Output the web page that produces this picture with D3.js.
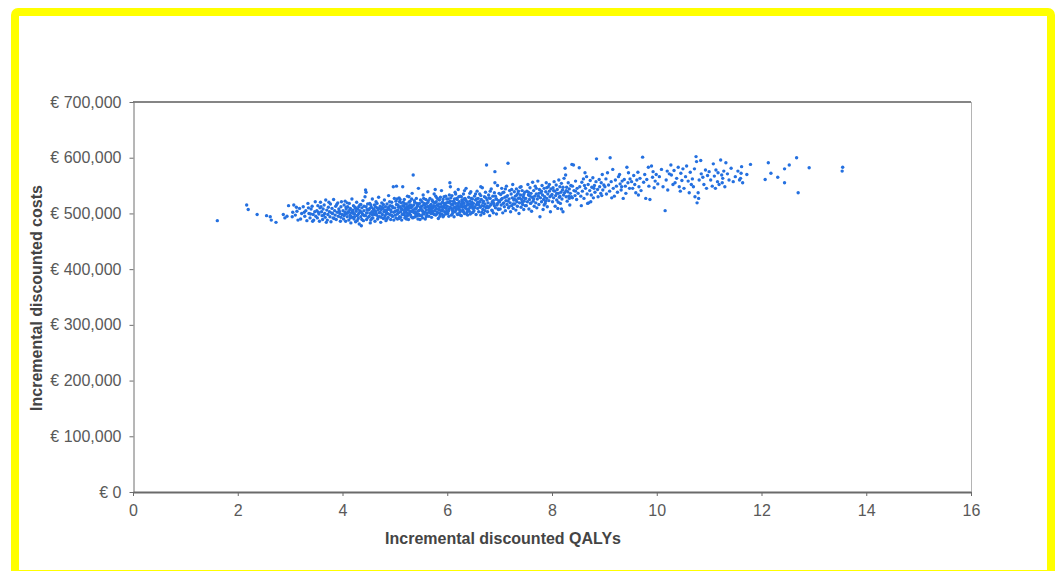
<!DOCTYPE html>
<html>
<head>
<meta charset="utf-8">
<script src="https://cdn.jsdelivr.net/npm/d3@7"></script>
<style>
  html, body { margin: 0; padding: 0; background: #fff; }
  svg { display: block; }
  text { font-family: "Liberation Sans", Arial, sans-serif; }
</style>
</head>
<body>
<div id="chart"></div>
<script>
// Probabilistic sensitivity analysis: incremental QALYs vs incremental costs (in € thousands)
const simulations = [
  [1.61,487],[2.17,515],[2.2,507],[2.37,498],[2.55,496],[2.62,494],[2.64,488],[2.73,484],[2.87,498],[2.94,495],[2.97,514],[2.9,492],
  [3.04,494],[3.07,515],[3.13,504],[3.1,497],[3.18,509],[3.2,490],[3.22,500],[3.25,512],[3.28,495],[3.3,505],[3.32,487],[3.34,518],[3.36,500],[3.38,492],[3.4,508],[3.42,513],[3.44,498],[3.45,488],[3.47,503],[3.48,521],[3.15,488],[3.27,502],[3.35,510],[3.49,495],[3.12,511],[3.39,499],[3.05,502],[3.43,486],
  [3.51,505],[3.52,492],[3.53,514],[3.55,499],[3.56,486],[3.57,510],[3.58,520],[3.6,503],[3.61,496],[3.62,489],[3.63,508],[3.65,515],[3.66,500],[3.67,493],[3.68,524],[3.7,506],[3.71,488],[3.72,498],[3.73,511],[3.75,503],[3.76,494],[3.77,517],[3.78,485],[3.8,509],[3.81,500],[3.82,492],[3.83,525],[3.85,505],[3.86,497],[3.87,513],[3.88,489],[3.9,502],[3.91,519],[3.92,495],[3.93,508],[3.95,500],[3.96,486],[3.97,512],[3.98,521],[3.99,498],[3.54,502],[3.64,497],[3.74,520],[3.84,491],[3.94,504],[3.59,512],[3.69,484],[3.79,501],[3.89,516],[3.97,493],
  [4.01,505],[4.02,490],[4.03,515],[4.04,498],[4.05,522],[4.06,486],[4.07,508],[4.08,500],[4.09,494],[4.1,512],
  [4.11,503],[4.12,488],[4.13,518],[4.14,497],[4.15,509],[4.16,483],[4.17,501],[4.18,526],[4.19,493],[4.2,506],
  [4.21,514],[4.22,490],[4.23,499],[4.24,511],[4.25,485],[4.26,504],[4.27,520],[4.28,496],[4.29,508],[4.3,491],
  [4.31,500],[4.32,481],[4.33,515],[4.34,503],[4.35,494],[4.36,478],[4.37,510],[4.38,499],[4.39,523],[4.4,487],
  [4.41,505],[4.42,496],[4.43,530],[4.44,542],[4.45,512],[4.46,489],[4.47,501],[4.48,517],[4.49,493],[4.03,496],
  [4.07,511],[4.12,502],[4.16,495],[4.21,500],[4.25,509],[4.29,497],[4.33,505],[4.37,489],[4.41,513],[4.46,501],
  [4.05,502],[4.14,507],[4.23,494],[4.31,512],[4.39,498],[4.47,507],[4.09,519],[4.19,504],[4.28,487],[4.36,502],
  [4.44,496],[4.15,492],[4.35,516],[4.45,538],[4.53,483],
  [4.5,506],[4.51,495],[4.52,518],[4.53,500],[4.54,488],[4.55,511],[4.56,503],[4.57,526],[4.58,492],[4.59,508],
  [4.6,499],[4.61,515],[4.62,486],[4.63,504],[4.64,521],[4.65,497],[4.66,510],[4.67,490],[4.68,506],[4.69,529],
  [4.7,501],[4.71,494],[4.72,513],[4.73,484],[4.74,507],[4.75,519],[4.76,498],[4.77,509],[4.78,491],[4.79,503],
  [4.8,524],[4.81,496],[4.82,512],[4.83,487],[4.84,505],[4.85,517],[4.86,500],[4.87,493],[4.88,532],[4.89,508],
  [4.9,498],[4.91,514],[4.92,489],[4.93,503],[4.94,520],[4.95,495],[4.96,510],[4.97,548],[4.98,502],[4.99,527],
  [4.52,509],[4.56,491],[4.6,507],[4.64,500],[4.68,494],[4.72,502],[4.76,511],[4.8,492],[4.84,499],[4.88,511],
  [4.92,506],[4.96,495],[4.54,515],[4.62,498],[4.7,509],[4.78,516],[4.86,507],[4.94,497],[4.58,502],[4.66,518],
  [4.74,493],[4.82,503],[4.9,521],[4.98,488],[4.63,512],[4.81,506],[4.95,513],[4.57,497],[4.85,490],
  [5.0,510],[5.01,497],[5.02,522],[5.03,549],[5.04,505],[5.05,490],[5.06,515],[5.07,501],[5.08,528],[5.09,494],
  [5.1,512],[5.11,503],[5.12,519],[5.13,488],[5.14,507],[5.15,548],[5.16,498],[5.17,513],[5.18,525],[5.19,492],
  [5.2,509],[5.21,502],[5.22,517],[5.23,495],[5.24,531],[5.25,506],[5.26,489],[5.27,514],[5.28,500],[5.29,522],
  [5.3,497],[5.31,510],[5.32,504],[5.33,536],[5.34,492],[5.35,569],[5.36,515],[5.37,501],[5.38,520],[5.39,494],
  [5.4,508],[5.41,527],[5.42,499],[5.43,513],[5.44,490],[5.45,545],[5.46,505],[5.47,518],[5.48,496],[5.49,511],
  [5.01,504],[5.03,516],[5.05,499],[5.07,511],[5.09,521],[5.11,493],[5.13,508],[5.15,514],[5.17,500],[5.19,517],
  [5.21,507],[5.23,512],[5.25,497],[5.27,520],[5.29,504],[5.31,494],[5.33,512],[5.35,506],[5.37,523],[5.39,502],
  [5.41,510],[5.43,496],[5.45,516],[5.47,506],[5.49,524],[5.02,492],[5.06,506],[5.1,525],[5.14,498],[5.18,505],
  [5.22,490],[5.26,509],[5.3,515],[5.34,503],[5.38,508],[5.42,518],[5.46,498],[5.04,526],[5.12,509],[5.2,496],
  [5.28,511],[5.36,493],[5.44,504],[5.08,491],[5.16,520],[5.24,500],[5.32,526],[5.4,498],[5.48,489],[5.27,530],
  [5.5,509],[5.51,496],[5.52,521],[5.53,504],[5.54,533],[5.55,515],[5.56,499],[5.57,510],[5.58,490],[5.59,525],
  [5.6,506],[5.61,518],[5.62,501],[5.63,539],[5.64,512],[5.65,495],[5.66,508],[5.67,527],[5.68,503],[5.69,516],
  [5.7,493],[5.71,511],[5.72,522],[5.73,500],[5.74,514],[5.75,535],[5.76,505],[5.77,519],[5.78,497],[5.79,509],
  [5.8,528],[5.81,502],[5.82,514],[5.83,491],[5.84,507],[5.85,524],[5.86,511],[5.87,498],[5.88,517],[5.89,541],
  [5.9,505],[5.91,520],[5.92,494],[5.93,512],[5.94,530],[5.95,503],[5.96,516],[5.97,499],[5.98,509],[5.99,526],
  [5.51,513],[5.53,492],[5.55,527],[5.57,502],[5.59,511],[5.61,497],[5.63,520],[5.65,507],[5.67,514],[5.69,500],
  [5.71,524],[5.73,510],[5.75,498],[5.77,506],[5.79,521],[5.81,515],[5.83,508],[5.85,501],[5.87,529],[5.89,512],
  [5.91,507],[5.93,496],[5.95,518],[5.97,531],[5.99,504],[5.52,506],[5.56,518],[5.6,494],[5.64,523],[5.68,510],
  [5.72,503],[5.76,513],[5.8,499],[5.84,517],[5.88,505],[5.92,525],[5.96,510],[5.54,500],[5.62,512],[5.7,506],
  [5.78,531],[5.86,495],[5.94,514],[5.58,516],[5.66,502],[5.74,520],[5.82,526],[5.9,499],[5.98,519],[5.77,543],
  [6.0,513],[6.01,500],[6.02,526],[6.03,507],[6.04,519],[6.05,555],[6.06,548],[6.07,510],[6.08,497],[6.09,532],
  [6.1,515],[6.11,504],[6.12,522],[6.13,494],[6.14,511],[6.15,538],[6.16,518],[6.17,506],[6.18,527],[6.19,499],
  [6.2,514],[6.21,543],[6.22,509],[6.23,521],[6.24,502],[6.25,531],[6.26,516],[6.27,496],[6.28,524],[6.29,511],
  [6.3,506],[6.31,535],[6.32,518],[6.33,500],[6.34,527],[6.35,513],[6.36,545],[6.37,508],[6.38,520],[6.39,497],
  [6.4,515],[6.41,529],[6.42,504],[6.43,522],[6.44,511],[6.45,539],[6.46,517],[6.47,501],[6.48,526],[6.49,509],
  [6.01,520],[6.03,495],[6.05,511],[6.07,528],[6.09,506],[6.11,517],[6.13,521],[6.15,503],[6.17,512],[6.19,525],
  [6.21,518],[6.23,507],[6.25,497],[6.27,530],[6.29,520],[6.31,503],[6.33,513],[6.35,524],[6.37,499],[6.39,516],
  [6.41,508],[6.43,536],[6.45,512],[6.47,520],[6.49,502],[6.02,504],[6.06,522],[6.1,500],[6.14,526],[6.18,509],
  [6.22,530],[6.26,505],[6.3,521],[6.34,510],[6.38,503],[6.42,517],[6.46,527],[6.04,533],[6.12,509],[6.2,498],
  [6.28,515],[6.36,523],[6.44,499],[6.08,516],[6.16,535],[6.24,512],[6.32,526],[6.4,507],[6.48,514],[6.33,541],
  [6.5,518],[6.51,505],[6.52,531],[6.53,512],[6.54,524],[6.55,498],[6.56,516],[6.57,540],[6.58,509],[6.59,527],
  [6.6,503],[6.61,520],[6.62,535],[6.63,511],[6.64,497],[6.65,525],[6.66,514],[6.67,546],[6.68,507],[6.69,522],
  [6.7,500],[6.71,530],[6.72,517],[6.73,538],[6.74,510],[6.75,587],[6.76,524],[6.77,503],[6.78,519],[6.79,533],
  [6.8,512],[6.81,496],[6.82,527],[6.83,515],[6.84,544],[6.85,506],[6.86,521],[6.87,531],[6.88,501],[6.89,518],
  [6.9,537],[6.91,575],[6.92,510],[6.93,526],[6.94,499],[6.95,515],[6.96,550],[6.97,508],[6.98,523],[6.99,536],
  [6.52,510],[6.56,526],[6.6,515],[6.64,532],[6.68,519],[6.72,505],[6.76,513],[6.8,528],[6.84,517],[6.88,523],
  [6.92,531],[6.96,518],[6.54,535],[6.62,521],[6.7,513],[6.78,510],[6.86,505],[6.94,526],[6.58,520],[6.66,502],
  [6.74,528],[6.82,540],[6.9,514],[6.98,507],[6.91,555],[6.64,548],
  [7.0,521],[7.01,508],[7.02,534],[7.03,515],[7.04,545],[7.05,527],[7.06,501],[7.07,518],[7.08,538],[7.09,512],
  [7.1,529],[7.11,505],[7.12,523],[7.13,549],[7.14,516],[7.15,532],[7.16,590],[7.17,510],[7.18,526],[7.19,541],
  [7.2,519],[7.21,503],[7.22,535],[7.23,514],[7.24,528],[7.25,552],[7.26,509],[7.27,524],[7.28,539],[7.29,517],
  [7.3,531],[7.31,506],[7.32,544],[7.33,521],[7.34,513],[7.35,536],[7.36,527],[7.37,500],[7.38,519],[7.39,547],
  [7.4,533],[7.41,511],[7.42,525],[7.43,541],[7.44,516],[7.45,530],[7.46,507],[7.47,522],[7.48,538],[7.49,514],
  [7.03,525],[7.08,519],[7.13,530],[7.18,512],[7.23,543],[7.28,526],[7.33,533],[7.38,528],[7.43,520],[7.48,527],
  [7.06,537],[7.16,522],[7.26,517],[7.36,540],[7.46,534],[7.11,544],[7.31,524],[7.41,548],
  [7.5,527],[7.51,514],[7.52,540],[7.53,521],[7.54,552],[7.55,533],[7.56,508],[7.57,525],[7.58,546],[7.59,518],
  [7.6,536],[7.61,504],[7.62,529],[7.63,556],[7.64,522],[7.65,541],[7.66,513],[7.67,531],[7.68,549],[7.69,519],
  [7.7,535],[7.71,510],[7.72,526],[7.73,558],[7.74,531],[7.75,516],[7.76,543],[7.77,494],[7.78,528],[7.79,537],
  [7.8,521],[7.81,550],[7.82,533],[7.83,507],[7.84,525],[7.85,545],[7.86,530],[7.87,518],[7.88,539],[7.89,555],
  [7.9,527],[7.91,512],[7.92,535],[7.93,548],[7.94,523],[7.95,540],[7.96,530],[7.97,503],[7.98,544],[7.99,532],
  [7.55,538],[7.65,526],[7.75,536],[7.85,515],[7.95,552],[7.6,519],[7.7,545],[7.8,540],[7.9,546],[7.58,531],[7.88,522],
  [8.0,534],[8.01,521],[8.02,546],[8.03,528],[8.04,557],[8.05,540],[8.06,513],[8.07,532],[8.08,551],[8.09,524],
  [8.1,543],[8.11,509],[8.12,536],[8.13,560],[8.14,529],[8.15,548],[8.16,518],[8.17,538],[8.18,554],[8.19,526],
  [8.2,542],[8.21,503],[8.22,533],[8.23,563],[8.24,537],[8.25,581],[8.26,569],[8.27,530],[8.28,547],[8.29,522],
  [8.3,539],[8.31,555],[8.32,531],[8.33,544],[8.34,515],[8.35,536],[8.36,550],[8.38,588],[8.39,528],[8.41,587],
  [8.42,541],[8.44,532],[8.45,558],[8.47,525],[8.48,545],[8.5,536],[8.52,582],[8.03,541],[8.09,536],[8.15,531],
  [8.21,547],[8.27,541],[8.33,527],[8.39,549],[8.45,540],[8.12,520],[8.37,530],[8.18,508],
  [8.53,548],[8.55,531],[8.57,556],[8.58,540],[8.6,562],[8.61,527],[8.63,573],[8.64,545],[8.66,566],[8.67,535],
  [8.69,552],[8.7,519],[8.72,541],[8.73,559],[8.75,533],[8.76,547],[8.78,564],[8.79,528],[8.81,550],[8.82,538],
  [8.84,557],[8.85,598],[8.87,543],[8.88,530],[8.9,561],[8.91,548],[8.93,536],[8.94,555],[8.96,570],[8.97,542],
  [8.99,551],[8.56,514],[8.74,521],[8.62,550],[8.8,545],[8.95,532],[8.68,518],
  [9.01,548],[9.03,562],[9.04,535],[9.06,573],[9.08,551],[9.1,540],[9.11,600],[9.13,557],[9.16,579],[9.17,545],
  [9.19,531],[9.21,560],[9.23,549],[9.25,538],[9.27,566],[9.29,570],[9.3,553],[9.32,542],[9.34,558],[9.36,527],
  [9.38,561],[9.4,549],[9.41,536],[9.43,583],[9.45,555],[9.46,573],[9.48,545],[9.49,562],[9.14,528],[9.33,548],
  [9.52,557],[9.54,545],[9.56,568],[9.58,552],[9.6,537],[9.62,560],[9.64,574],[9.66,548],[9.68,563],[9.7,541],
  [9.73,601],[9.75,556],[9.77,570],[9.79,527],[9.81,561],[9.84,583],[9.85,549],[9.87,525],[9.9,585],[9.92,565],
  [9.93,575],[9.95,546],[9.97,558],[9.99,570],[9.65,533],
  [10.02,553],[10.05,566],[10.09,579],[10.12,548],[10.16,505],[10.18,560],[10.21,542],[10.24,571],[10.27,587],[10.28,569],
  [10.31,552],[10.33,577],[10.35,555],[10.38,563],[10.41,583],[10.43,548],[10.46,572],[10.48,559],[10.5,580],[10.52,545],
  [10.55,566],[10.57,585],[10.6,558],[10.62,537],[10.64,574],[10.66,552],[10.68,562],[10.7,548],[10.72,580],[10.73,530],
  [10.75,602],[10.76,593],[10.77,519],[10.79,537],[10.81,560],[10.84,595],[10.85,571],[10.88,565],[10.9,552],[10.93,578],
  [10.95,545],[10.97,568],[10.2,576],[10.45,540],[10.8,527],
  [11.0,575],[11.03,560],[11.06,549],[11.08,589],[11.1,567],[11.13,578],[11.16,557],[11.17,573],[11.19,552],[11.22,596],
  [11.24,569],[11.26,563],[11.28,576],[11.3,548],[11.32,591],[11.35,571],[11.38,560],[11.42,581],[11.46,557],[11.5,566],
  [11.55,576],[11.6,563],[11.61,572],[11.62,584],[11.64,555],[11.72,570],[11.79,588],[11.25,555],[11.12,545],[11.58,560],
  [12.07,561],[12.13,591],[12.18,572],[12.31,565],[12.44,580],[12.44,555],[12.53,587],[12.67,600],[12.7,537],[12.91,582],
  [13.55,583],[13.54,576]
];

const xTicks = [0, 2, 4, 6, 8, 10, 12, 14, 16];
const yTicks = [0, 100000, 200000, 300000, 400000, 500000, 600000, 700000];
const xTitle = "Incremental discounted QALYs";
const yTitle = "Incremental discounted costs";

const W = 1059, H = 571;
const plot = { left: 133, right: 971, top: 102, bottom: 492 };

const svg = d3.select("#chart").append("svg")
  .attr("width", W).attr("height", H);

// outer yellow frame
svg.append("rect")
  .attr("x", 15).attr("y", 12)
  .attr("width", 1036).attr("height", 562)
  .attr("rx", 3)
  .attr("fill", "#fff")
  .attr("stroke", "#ffff00")
  .attr("stroke-width", 8);

const x = d3.scaleLinear().domain([0, 16]).range([plot.left, plot.right]);
const y = d3.scaleLinear().domain([0, 700000]).range([plot.bottom, plot.top]);

// top and right edges of the plot area
svg.append("line")
  .attr("x1", plot.left).attr("x2", plot.right)
  .attr("y1", plot.top).attr("y2", plot.top)
  .attr("stroke", "#858585").attr("stroke-width", 2);
svg.append("line")
  .attr("x1", plot.right + 0.5).attr("x2", plot.right + 0.5)
  .attr("y1", plot.top).attr("y2", plot.bottom)
  .attr("stroke", "#b4b4b4").attr("stroke-width", 1);

const fmt = d3.format(",");
const yAxis = svg.append("g")
  .attr("transform", `translate(${plot.left + 0.5},0)`)
  .call(d3.axisLeft(y).tickValues(yTicks).tickSize(4).tickSizeOuter(0).tickPadding(8)
    .tickFormat(d => "€ " + fmt(d)));
yAxis.select(".domain").attr("stroke", "#6e6e6e");
yAxis.selectAll(".tick line").attr("stroke", "#6e6e6e");
yAxis.selectAll(".tick text")
  .attr("fill", "#595959")
  .style("font-size", "16px")
  .style("font-family", "'Liberation Sans', Arial, sans-serif");

const xAxis = svg.append("g")
  .attr("transform", `translate(0,${plot.bottom})`)
  .call(d3.axisBottom(x).tickValues(xTicks).tickSize(4).tickSizeOuter(0).tickPadding(9)
    .tickFormat(d3.format("d")));
xAxis.select(".domain").attr("stroke", "#6a6a6a").attr("stroke-width", 2);
xAxis.selectAll(".tick line").attr("stroke", "#6a6a6a");
xAxis.selectAll(".tick text")
  .attr("fill", "#595959")
  .style("font-size", "16px")
  .style("font-family", "'Liberation Sans', Arial, sans-serif");

// scatter of simulation results
svg.append("g")
  .selectAll("circle")
  .data(simulations)
  .join("circle")
  .attr("cx", d => x(d[0]))
  .attr("cy", d => y(d[1] * 1000))
  .attr("r", 1.7)
  .attr("fill", "#2470e0");

// axis titles
svg.append("text")
  .attr("x", 503).attr("y", 544)
  .attr("text-anchor", "middle")
  .attr("fill", "#444")
  .style("font-size", "16px")
  .style("font-weight", "bold")
  .text(xTitle);

svg.append("text")
  .attr("transform", `translate(42,298) rotate(-90)`)
  .attr("text-anchor", "middle")
  .attr("fill", "#444")
  .style("font-size", "16px")
  .style("font-weight", "bold")
  .text(yTitle);
</script>
</body>
</html>
